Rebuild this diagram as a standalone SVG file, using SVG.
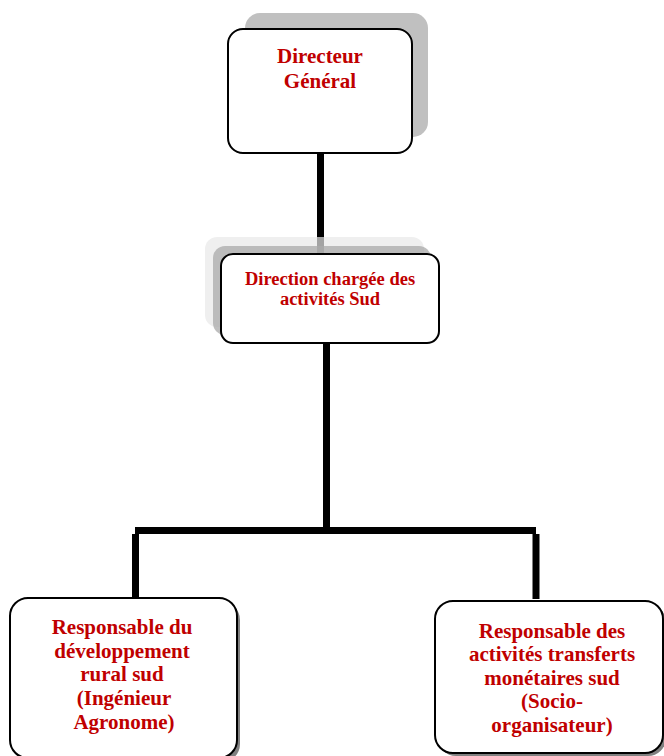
<svg xmlns="http://www.w3.org/2000/svg" width="664" height="756" viewBox="0 0 664 756">
<style>
.box{fill:#fff;stroke:#000;stroke-width:2}
.t{font-family:"Liberation Serif","Times New Roman",serif;font-weight:bold;fill:#c00000;text-anchor:middle}
.c{stroke:#000;stroke-width:7;fill:none}
</style>
<rect width="664" height="756" fill="#fff"/>
<g id="connectors">
<line class="c" x1="320.5" y1="153" x2="320.5" y2="254"/>
<line class="c" x1="326.5" y1="343" x2="326.5" y2="531"/>
<line class="c" x1="135" y1="530.5" x2="536" y2="530.5"/>
<line class="c" x1="135.5" y1="534" x2="135.5" y2="599"/>
<line class="c" x1="536" y1="534" x2="536" y2="599"/>
</g>
<g id="directeur">
<rect x="245" y="13" width="183" height="124" rx="15" fill="#c0c0c0"/>
<rect class="box" x="228" y="29" width="184" height="124" rx="15"/>
<text class="t" font-size="21"><tspan x="320" y="63">Directeur</tspan><tspan x="320" y="88">Général</tspan></text>
</g>
<g id="direction">
<rect x="205" y="237" width="219" height="90" rx="12" fill="#e8e8e8" opacity="0.7"/>
<rect x="213" y="246" width="218" height="89" rx="12" fill="#aaaaaa" opacity="0.75"/>
<rect class="box" x="221" y="254" width="218" height="89" rx="12"/>
<text class="t" font-size="18.5"><tspan x="330" y="285">Direction chargée des</tspan><tspan x="330" y="305">activités Sud</tspan></text>
</g>
<g id="resp-dev">
<rect x="13" y="602" width="227" height="160" rx="18" fill="#808080"/>
<rect class="box" x="10" y="598" width="227" height="160" rx="18"/>
<text class="t" font-size="21"><tspan x="122" y="634">Responsable du</tspan><tspan x="122" y="658">développement</tspan><tspan x="122" y="681">rural sud</tspan><tspan x="124" y="705">(Ingénieur</tspan><tspan x="124" y="729">Agronome)</tspan></text>
</g>
<g id="resp-transferts">
<rect x="438" y="604" width="228" height="152" rx="18" fill="#808080"/>
<rect class="box" x="435" y="601" width="228" height="152" rx="18"/>
<text class="t" font-size="21"><tspan x="552" y="638">Responsable des</tspan><tspan x="552" y="661">activités transferts</tspan><tspan x="552" y="685">monétaires sud</tspan><tspan x="552" y="708">(Socio-</tspan><tspan x="552" y="732">organisateur)</tspan></text>
</g>
</svg>
